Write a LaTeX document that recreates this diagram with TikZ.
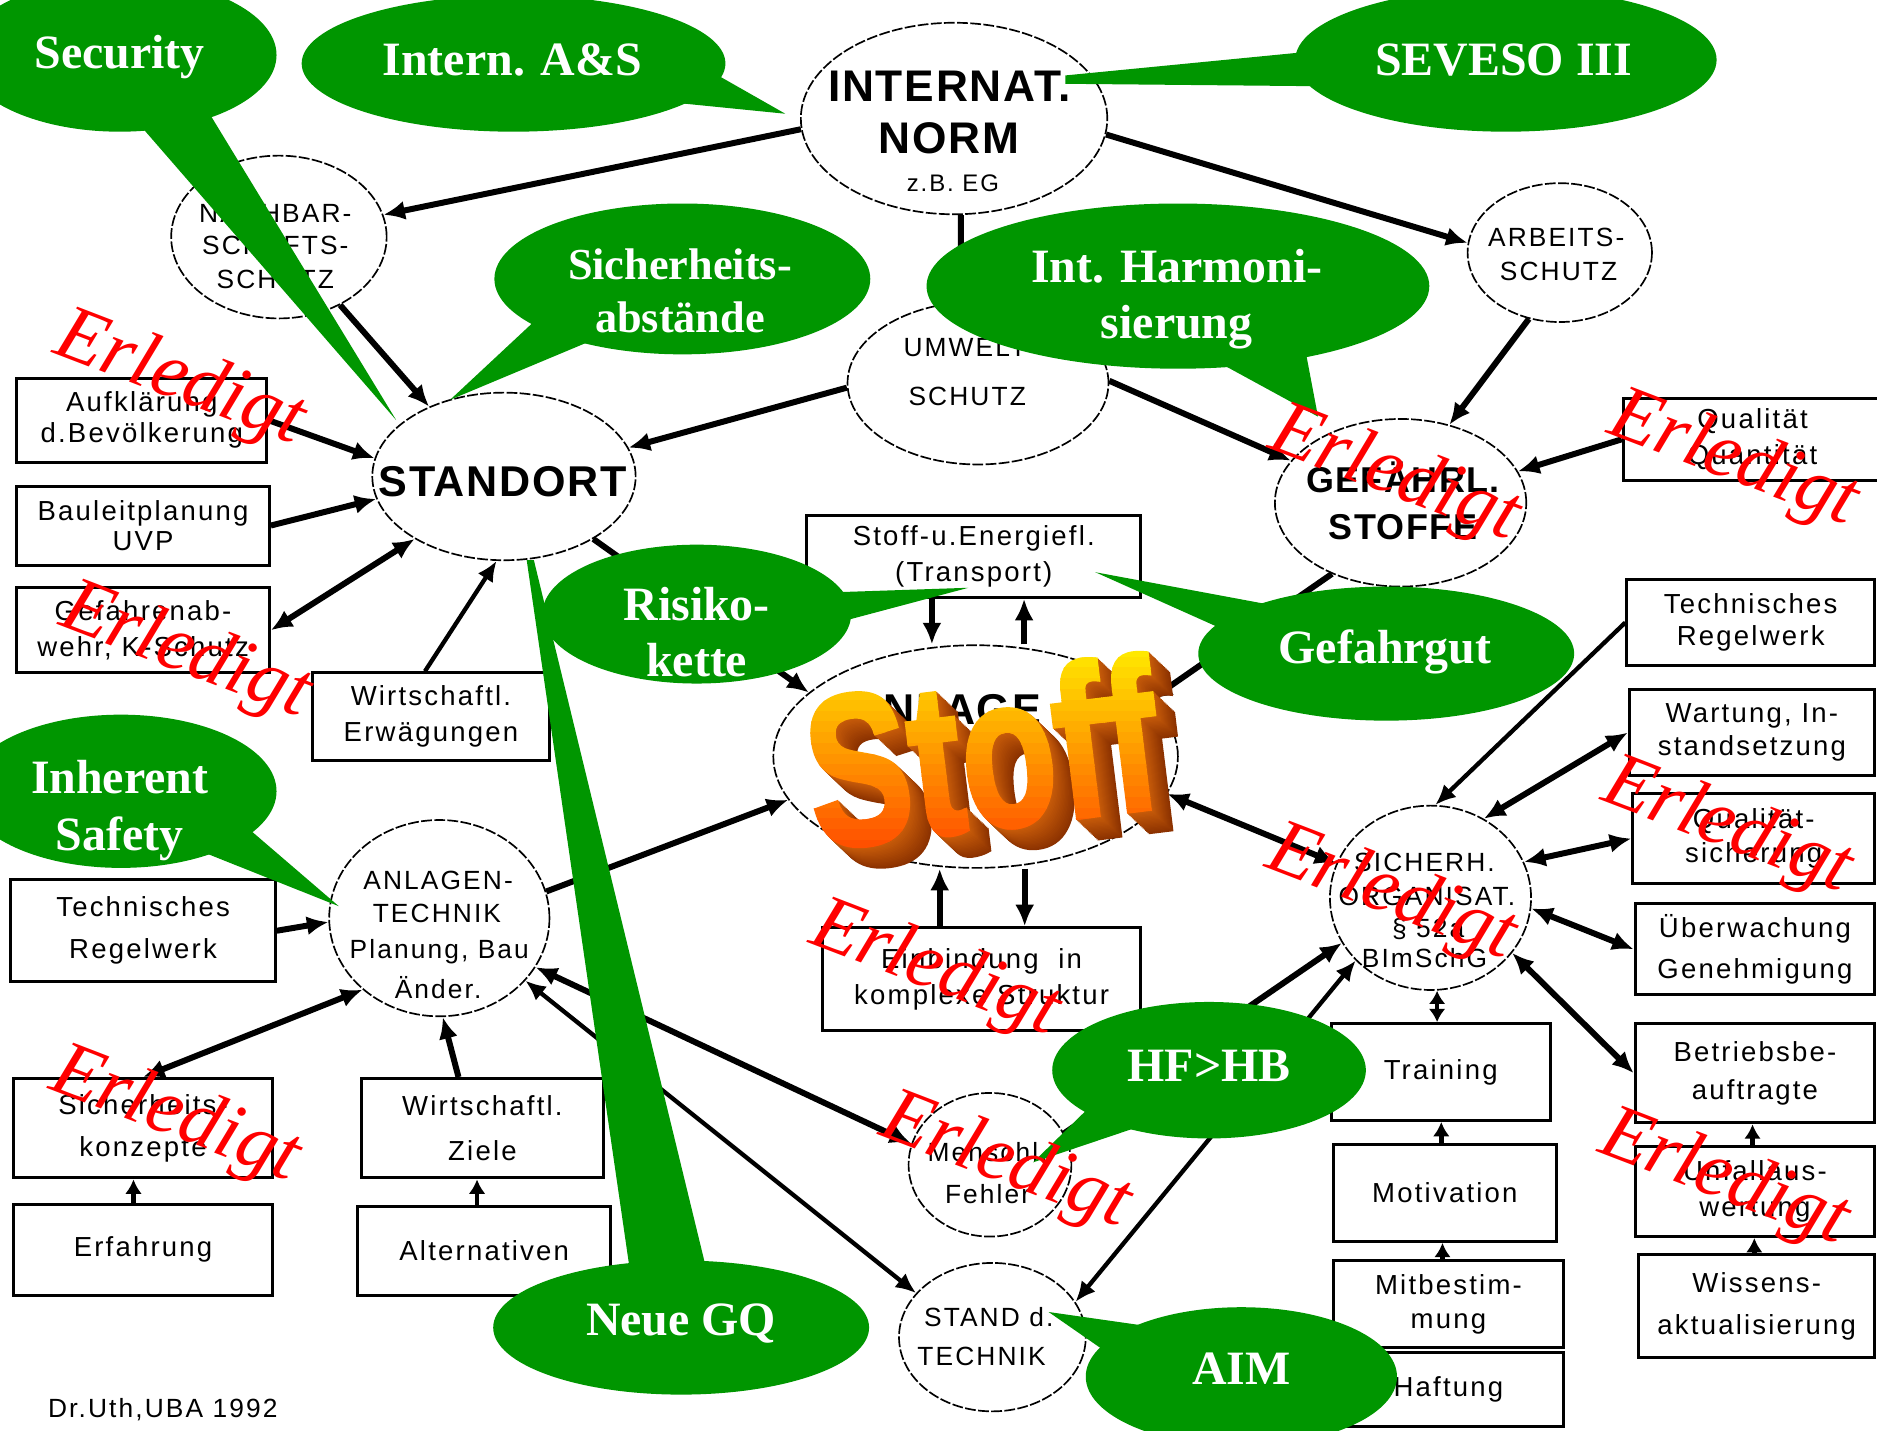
\documentclass[tikz,border=0pt]{standalone}
\usepackage{fontspec}
\setmainfont{Liberation Serif}
\newfontfamily\boxfont[LetterSpace=8]{Liberation Sans}
\newfontfamily\headfont[LetterSpace=4]{Liberation Sans}
\newfontfamily\wordfont[FakeBold=2.5]{Liberation Sans Bold}
\usetikzlibrary{arrows.meta,shapes.geometric}
\definecolor{bubblegreen}{RGB}{0,150,0}
\definecolor{stofftop}{RGB}{255,232,0}
\definecolor{stoffbot}{RGB}{255,72,0}
\definecolor{stoffside}{RGB}{200,92,10}
\definecolor{stoffdark}{RGB}{140,50,0}
\begin{document}
\begin{tikzpicture}[x=1pt,y=-1pt,
  ell/.style={ellipse, draw, line width=1.4pt, dash pattern=on 9pt off 2pt, inner sep=0pt},
  box/.style={rectangle, draw, line width=2.5pt, inner sep=0pt, align=center,
    font={\boxfont\fontsize{23}{30}\selectfont}},
  lbl/.style={anchor=base, inner sep=0pt, font={\boxfont\fontsize{22}{26}\selectfont}},
  blbl/.style={anchor=base, inner sep=0pt, font={\headfont\bfseries\fontsize{36}{40}\selectfont}},
  bub/.style={ellipse, fill=bubblegreen, inner sep=0pt},
  bubtxt/.style={inner sep=0pt, text=white, align=center,
    font={\bfseries\fontsize{40}{47}\selectfont}},
  tail/.style={fill=bubblegreen},
  conn/.style={line width=5pt, -{Latex[length=18pt,width=16pt]}},
  conntwo/.style={line width=5pt, {Latex[length=18pt,width=16pt]}-{Latex[length=18pt,width=16pt]}},
  connthin/.style={line width=3.6pt, -{Latex[length=17pt,width=15pt]}},
  connthintwo/.style={line width=3.6pt, {Latex[length=17pt,width=15pt]}-{Latex[length=17pt,width=15pt]}},
  connshort/.style={line width=4pt, -{Latex[length=12pt,width=14pt]}},
  connshorttwo/.style={line width=4pt, {Latex[length=11pt,width=14pt]}-{Latex[length=11pt,width=14pt]}},
  stoffword/.style={inner sep=0pt, rotate=7, xscale=0.72,
    font={\wordfont\fontsize{179}{179}\selectfont}},
  stamp/.style={text=red, inner sep=0pt, rotate=-21,
    font={\itshape\fontsize{66}{66}\selectfont}}
]
\fill[white] (0,0) rectangle (1568,1195);
\useasboundingbox (0,0) rectangle (1568,1195);

% ---------- ellipses ----------
\node[ell, minimum width=256, minimum height=160] (norm) at (797,99) {};
\node[ell, minimum width=180, minimum height=136] (nach) at (233,198) {};
\node[ell, minimum width=220, minimum height=140] (stand) at (421,398) {};
\node[ell, minimum width=218, minimum height=136] (umw) at (817,320) {};
\node[ell, minimum width=154, minimum height=116] (arb) at (1303,211) {};
\node[ell, minimum width=210, minimum height=140] (gef) at (1170,420) {};
\node[ell, minimum width=338, minimum height=186] (anl) at (815,632) {};
\node[ell, minimum width=168, minimum height=154] (sich) at (1195,750) {};
\node[ell, minimum width=136, minimum height=120] (mensch) at (827,973) {};
\node[ell, minimum width=156, minimum height=124] (stdt) at (829,1117) {};
\node[ell, minimum width=184, minimum height=164] (atech) at (367,767) {};

% ellipse labels
\node[blbl, font={\headfont\bfseries\fontsize{37}{40}\selectfont}] (norm-a) at (793,85) {INTERNAT.};
\node[blbl, font={\headfont\bfseries\fontsize{37}{40}\selectfont}] (norm-b) at (793,128) {NORM};
\node[lbl, font={\boxfont\fontsize{20}{24}\selectfont}] (norm-c) at (796,160) {z.B. EG};
\node[lbl] (nach-a) at (230,186) {NACHBAR-};
\node[lbl] (nach-b) at (230,213) {SCHAFTS-};
\node[lbl] (nach-c) at (230,241) {SCHUTZ};
\node[blbl] (stand-a) at (420,415) {STANDORT};
\node[lbl] (umw-a) at (810,298) {UMWELT-};
\node[lbl] (umw-b) at (808,339) {SCHUTZ};
\node[lbl] (arb-a) at (1300,206) {ARBEITS-};
\node[lbl] (arb-b) at (1302,234) {SCHUTZ};
\node[blbl, font={\headfont\bfseries\fontsize{30}{34}\selectfont}] (gef-a) at (1172,411) {GEFÄHRL.};
\node[blbl, font={\headfont\bfseries\fontsize{30}{34}\selectfont}] (gef-b) at (1172,451) {STOFFE};
\node[blbl] (anl-a) at (790,605) {ANLAGE};
\node[lbl] (sich-a) at (1190,728) {SICHERH.};
\node[lbl] (sich-b) at (1192,756) {ORGANISAT.};
\node[lbl] (sich-c) at (1193,783) {§ 52a};
\node[lbl] (sich-d) at (1190,808) {BImSchG};
\node[lbl] (mensch-a) at (825,970) {Menschl.};
\node[lbl] (mensch-b) at (825,1005) {Fehler};
\node[lbl] (stdt-a) at (826,1108) {STAND d.};
\node[lbl] (stdt-b) at (820,1141) {TECHNIK};
\node[lbl] (atech-a) at (366,743) {ANLAGEN-};
\node[lbl] (atech-b) at (365,771) {TECHNIK};
\node[lbl] (atech-c) at (367,801) {Planung, Bau};
\node[lbl] (atech-d) at (366,834) {Änder.};

% ---------- boxes ----------
\node[box, minimum width=209, minimum height=70, font={\boxfont\fontsize{23}{26}\selectfont}] (auf) at (118.5,351) {Aufklärung\\d.Bevölkerung};
\node[box, minimum width=211, minimum height=66, font={\boxfont\fontsize{23}{25}\selectfont}] (bau) at (119.5,439) {Bauleitplanung\\UVP};
\node[box, minimum width=211, minimum height=71] (gefab) at (119.5,526.5) {Gefahrenab-\\wehr, K-Schutz};
\node[box, minimum width=198, minimum height=73] (werw) at (360,598.5) {Wirtschaftl.\\Erwägungen};
\node[box, minimum width=221, minimum height=85, font={\boxfont\fontsize{23}{35}\selectfont}] (trl) at (119.5,777.5) {Technisches\\Regelwerk};
\node[box, minimum width=217, minimum height=83, font={\boxfont\fontsize{23}{35}\selectfont}] (sk) at (119.5,942.5) {Sicherheits-\\konzepte};
\node[box, minimum width=217, minimum height=76] (erf) at (119.5,1044) {Erfahrung};
\node[box, minimum width=202, minimum height=83, font={\boxfont\fontsize{23}{37}\selectfont}] (wz) at (403,942.5) {Wirtschaftl.\\Ziele};
\node[box, minimum width=211, minimum height=74] (alt) at (404.5,1045) {Alternativen};
\node[box, minimum width=279, minimum height=68] (sfe) at (813.5,465) {Stoff-u.Energiefl.\\(Transport)};
\node[box, minimum width=266, minimum height=86] (ein) at (820,818) {Einbindung\ \ in\\komplexe Struktur};
\node[box, minimum width=216, minimum height=68] (qq) at (1464,367) {Qualität\\Quantität};
\node[box, minimum width=207, minimum height=72, font={\boxfont\fontsize{23}{27}\selectfont}] (trr) at (1462.5,520) {Technisches\\Regelwerk};
\node[box, minimum width=205, minimum height=72, font={\boxfont\fontsize{23}{28}\selectfont}] (wart) at (1463.5,612) {Wartung, In-\\standsetzung};
\node[box, minimum width=202, minimum height=75, font={\boxfont\fontsize{23}{28}\selectfont}] (qs) at (1465,700.5) {Qualität-\\sicherung};
\node[box, minimum width=200, minimum height=76, font={\boxfont\fontsize{23}{35}\selectfont}] (ueb) at (1466,793) {Überwachung\\Genehmigung};
\node[box, minimum width=200, minimum height=83, font={\boxfont\fontsize{23}{32}\selectfont}] (bb) at (1466,896.5) {Betriebsbe-\\auftragte};
\node[box, minimum width=200, minimum height=75] (unf) at (1466,995.5) {Unfallaus-\\wertung};
\node[box, minimum width=197, minimum height=86, font={\boxfont\fontsize{23}{35}\selectfont}] (wis) at (1467.5,1091) {Wissens-\\aktualisierung};
\node[box, minimum width=183, minimum height=81] (train) at (1203.5,895.5) {Training};
\node[box, minimum width=186, minimum height=81] (mot) at (1207,996.5) {Motivation};
\node[box, minimum width=192, minimum height=73, font={\boxfont\fontsize{23}{28}\selectfont}] (mit) at (1210,1089.5) {Mitbestim-\\mung};
\node[box, minimum width=192, minimum height=62] (haft) at (1210,1161) {Haftung};

\node[lbl, anchor=base west] (credit) at (40,1184) {Dr.Uth,UBA 1992};

% ---------- connectors ----------
\coordinate (sfe-a) at ([xshift=-35pt]sfe.south);
\coordinate (sfe-b) at ([xshift=42pt]sfe.south);
\coordinate (ein-a) at ([xshift=-35pt]ein.north);
\coordinate (ein-b) at ([xshift=36pt]ein.north);
\coordinate (werw-a) at ([xshift=-5pt]werw.north);
\coordinate (wz-a) at ([xshift=-20pt]wz.north);
\coordinate (erf-a) at ([xshift=-8pt]erf.north);
\coordinate (alt-a) at ([xshift=-6pt]alt.north);
\coordinate (train-a) at ([xshift=-3pt]train.north);
\coordinate (mot-a) at ([xshift=-3pt]mot.north);
\coordinate (mit-a) at ([xshift=-5pt]mit.north);
\coordinate (unf-a) at ([xshift=-2pt]unf.north);
\coordinate (wis-a) at ([xshift=-2pt]wis.north);

\draw[conn] (norm.184) -- (nach.12);
\draw[conn] (norm.354) -- (arb.174);
\draw[conn] (norm.274) -- (umw.102);
\draw[conn] (nach.312) -- (stand.137);
\draw[conn] (umw.182) -- (stand.13);
\draw[conn] (umw.1) -- (gef.159);
\draw[conn] (arb.245) -- (gef.58);
\draw[conn] (qq.west) -- (gef.15);
\draw[conn] (auf.east) -- (stand.172);
\draw[conn] (bau.east) -- (stand.190);
\draw[conntwo] (gefab.east) -- (stand.215);
\draw[connthin] (werw-a) -- (stand.265);
\draw[conn] (stand.325) -- (anl.159);
\draw[conn] (sfe-a) -- (sfe-a |- anl.north);
\draw[conn] (sfe-b |- anl.north) -- (sfe-b);
\draw[conn] (ein-a) -- (ein-a |- anl.south);
\draw[conn] (ein-b |- anl.south) -- (ein-b);
\draw[conn] (gef.226) -- (anl.18);
\draw[conntwo] (anl.349) -- (sich.160);
\draw[conn] (atech.14) -- (anl.193);
\draw[conn] (trl.east) -- (atech.182);
\draw[conntwo] (sk.north) -- (atech.223);
\draw[conn] (wz-a) -- (atech.272);
\draw[connshort] (erf-a) -- (erf-a |- sk.south);
\draw[connshort] (alt-a) -- (alt-a |- wz.south);
\draw[conntwo] (atech.333) -- (mensch.165);
\draw[connthintwo] (atech.324) -- (stdt.150);
\draw[conn] (mensch.23) -- (sich.207);
\draw[connthintwo] (sich.220) -- (stdt.23);
\draw[connthin] (trr.west) -- (sich.87);
\draw[conntwo] (wart.west) -- (sich.56);
\draw[conntwo] (qs.west) -- (sich.21);
\draw[conntwo] (ueb.west) -- (sich.354);
\draw[conntwo] (bb.west) -- (sich.326);
\draw[connshorttwo] (train-a) -- (train-a |- sich.south);
\draw[connshort] (mot-a) -- (mot-a |- train.south);
\draw[connshort] (mit-a) -- (mit-a |- mot.south);
\draw[connshort] (unf-a) -- (unf-a |- bb.south);
\draw[connshort] (wis-a) -- (wis-a |- unf.south);

% ---------- 3D word "Stoff" ----------
\foreach \k in {18,17,...,1} {
  \pgfmathsetmacro\pp{100*\k/18}
  \colorlet{extc}{stoffdark!\pp!stoffside}
  \node[stoffword, text=extc] (stoff-x\k) at (820+1.0*\k,628+0.95*\k) {Stoff};
}
\foreach \i in {0,...,19} {
  \pgfmathsetmacro\ya{540+9*\i}
  \pgfmathsetmacro\yb{\ya+9.6}
  \pgfmathsetmacro\pp{100*\i/19}
  \colorlet{bandc}{stoffbot!\pp!stofftop}
  \begin{scope}
    \clip (600,\ya) rectangle (1050,\yb);
    \node[stoffword, text=bandc] (stoff-f\i) at (820,628) {Stoff};
  \end{scope}
}

% ---------- callouts ----------
\fill[tail] (113,100) -- (172,90) -- (331,351) -- cycle;
\node[bub, minimum width=262, minimum height=128] (b-sec) at (100,46) {};
\node[bubtxt] (t-sec) at (100,48) {Security};

\fill[tail] (556,85) -- (598,62) -- (656,95) -- cycle;
\node[bub, minimum width=354, minimum height=114] (b-ias) at (429,53) {};
\node[bubtxt] (t-ias) at (428,50) {Intern. A\&S};

\fill[tail] (1085,44) -- (1100,72) -- (890,70) -- (890,63) -- cycle;
\node[bub, minimum width=352, minimum height=120] (b-sev) at (1258,50) {};
\node[bubtxt] (t-sev) at (1256,50) {SEVESO III};

\fill[tail] (450,265) -- (505,280) -- (376,334) -- cycle;
\node[bub, minimum width=314, minimum height=126] (b-sab) at (570,233) {};
\node[bubtxt, font={\bfseries\fontsize{37}{45}\selectfont}] (t-sab) at (568,243) {Sicherheits-\\abstände};

\fill[tail] (1013,300) -- (1090,290) -- (1101,348) -- cycle;
\node[bub, minimum width=420, minimum height=138] (b-harm) at (984,239) {};
\node[bubtxt] (t-harm) at (983,250) {Int. Harmoni-\\sierung};

\fill[tail] (690,495) -- (700,520) -- (809,491) -- cycle;
\node[bub, minimum width=258, minimum height=116] (b-risk) at (582,513) {};
\node[bubtxt] (t-risk) at (582,528) {Risiko-\\kette};

\fill[tail] (1060,505) -- (1020,525) -- (915,478) -- cycle;
\node[bub, minimum width=314, minimum height=112] (b-gg) at (1158,546) {};
\node[bubtxt] (t-gg) at (1157,545) {Gefahrgut};

\fill[tail] (205,690) -- (160,708) -- (283,757) -- cycle;
\node[bub, minimum width=260, minimum height=128] (b-inh) at (101,661) {};
\node[bubtxt] (t-inh) at (100,677) {Inherent\\Safety};

\fill[tail] (526,1060) -- (590,1060) -- (446,468) -- (440,468) -- cycle;
\node[bub, minimum width=314, minimum height=112] (b-ngq) at (569,1109) {};
\node[bubtxt] (t-ngq) at (569,1106) {Neue GQ};

\fill[tail] (910,925) -- (955,940) -- (863,971) -- cycle;
\node[bub, minimum width=262, minimum height=114] (b-hf) at (1010,894) {};
\node[bubtxt] (t-hf) at (1010,890) {HF>HB};

\fill[tail] (925,1130) -- (960,1108) -- (876,1096) -- cycle;
\node[bub, minimum width=260, minimum height=116] (b-aim) at (1037,1150) {};
\node[bubtxt] (t-aim) at (1037,1143) {AIM};

% ---------- stamps ----------
\node[stamp] (done-a) at (150,318) {Erledigt};
\node[stamp] (done-b) at (155,546) {Erledigt};
\node[stamp] (done-c) at (146,933) {Erledigt};
\node[stamp] (done-d) at (781,811) {Erledigt};
\node[stamp] (done-e) at (840,972) {Erledigt};
\node[stamp] (done-f) at (1165,398) {Erledigt};
\node[stamp] (done-g) at (1448,385) {Erledigt};
\node[stamp] (done-h) at (1162,748) {Erledigt};
\node[stamp] (done-i) at (1443,692) {Erledigt};
\node[stamp] (done-j) at (1440,986) {Erledigt};
\end{tikzpicture}
\end{document}
